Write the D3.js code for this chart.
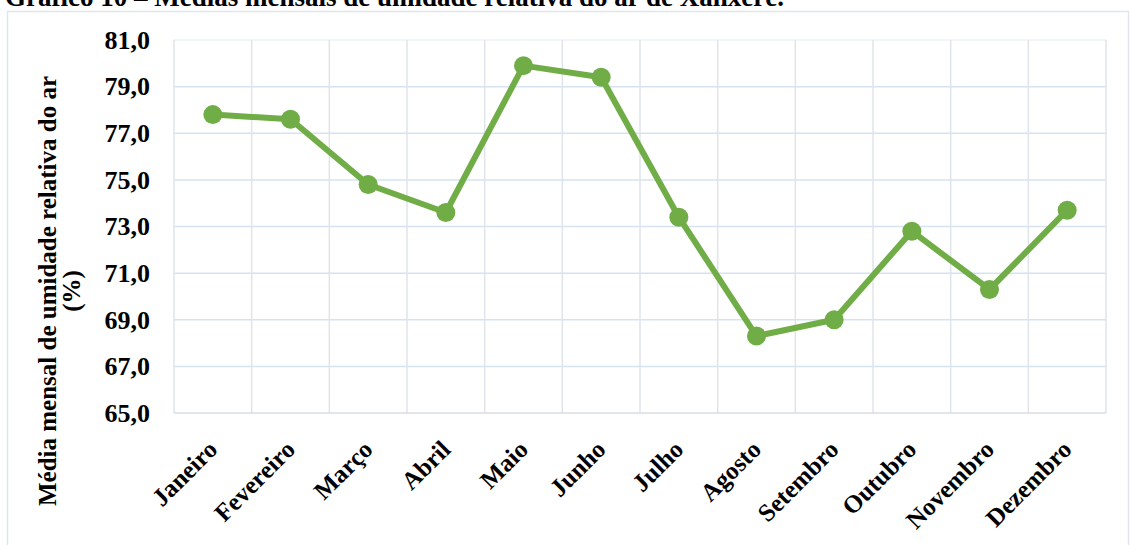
<!DOCTYPE html>
<html>
<head>
<meta charset="utf-8">
<script src="https://cdn.jsdelivr.net/npm/d3@7"></script>
<style>
    body { margin: 0; background: #fff; }
    text { font-family: "Liberation Serif", "Times New Roman", serif; font-weight: bold; fill: #000; }
</style>
</head>
<body>
<div id="vis"></div>
<script>
const months = ['Janeiro', 'Fevereiro', 'Março', 'Abril', 'Maio', 'Junho',
    'Julho', 'Agosto', 'Setembro', 'Outubro', 'Novembro', 'Dezembro'];
const humidity = [77.8, 77.6, 74.8, 73.6, 79.9, 79.4, 73.4, 68.3, 69.0, 72.8, 70.3, 73.7];
const yTicks = [65, 67, 69, 71, 73, 75, 77, 79, 81];

const W = 1130, H = 545;
const plot = { left: 174, right: 1106, top: 40, bottom: 413 };
const serif = '"Liberation Serif", "Times New Roman", serif';

const svg = d3.select('#vis')
    .append('svg')
    .attr('width', W)
    .attr('height', H);

// title, cut at the top of the image like the source
svg.append('text')
    .attr('x', 5)
    .attr('y', 6)
    .style('font-size', '27px')
    .text('Gráfico 10 – Médias mensais de umidade relativa do ar de Xanxerê.');

// chart frame
svg.append('rect')
    .attr('x', 7.5)
    .attr('y', 11.5)
    .attr('width', W - 9)
    .attr('height', H)
    .attr('fill', 'none')
    .attr('stroke', '#e1e5ea')
    .attr('stroke-width', 1.5);

const xScale = d3.scaleBand()
    .domain(months)
    .range([plot.left, plot.right]);

const yScale = d3.scaleLinear()
    .domain([65, 81])
    .range([plot.bottom, plot.top]);

const fmt = d => d3.format('.1f')(d).replace('.', ',');

// horizontal grid
svg.selectAll('.hgrid')
    .data(yTicks.filter(d => d > 65))
    .join('line')
    .attr('class', 'hgrid')
    .attr('x1', plot.left)
    .attr('x2', plot.right)
    .attr('y1', d => yScale(d))
    .attr('y2', d => yScale(d))
    .attr('stroke', d => d === 81 ? '#eef3f9' : '#d5e3f1')
    .attr('stroke-width', 1.5);

// vertical grid at category boundaries
const bounds = months.map(m => xScale(m)).concat([plot.right]);
svg.selectAll('.vgrid')
    .data(bounds)
    .join('line')
    .attr('class', 'vgrid')
    .attr('x1', d => d)
    .attr('x2', d => d)
    .attr('y1', plot.top)
    .attr('y2', plot.bottom)
    .attr('stroke', '#dfe4ea')
    .attr('stroke-width', 1.5);

// bottom axis line
svg.append('line')
    .attr('x1', plot.left)
    .attr('x2', plot.right)
    .attr('y1', plot.bottom)
    .attr('y2', plot.bottom)
    .attr('stroke', '#d9dee5')
    .attr('stroke-width', 1.5);

// y tick labels
const yAxis = d3.axisLeft(yScale)
    .tickValues(yTicks)
    .tickFormat(fmt)
    .tickSize(0)
    .tickPadding(0);

const yG = svg.append('g')
    .attr('transform', 'translate(150,0)')
    .call(yAxis);
yG.select('.domain').remove();
yG.selectAll('text')
    .style('font-family', serif)
    .style('font-weight', 'bold')
    .style('font-size', '26px')
    .attr('fill', '#000');

// x tick labels, rotated
const xAxis = d3.axisBottom(xScale).tickSize(0).tickPadding(0);
const xG = svg.append('g')
    .attr('transform', `translate(0,${plot.bottom})`)
    .call(xAxis);
xG.select('.domain').remove();
xG.selectAll('text')
    .style('font-family', serif)
    .style('font-weight', 'bold')
    .style('font-size', '25px')
    .attr('fill', '#000')
    .attr('text-anchor', 'end')
    .attr('dy', null)
    .attr('y', 0)
    .attr('transform', 'translate(6,38) rotate(-45)');

// y axis title
const yTitle = svg.append('text')
    .attr('transform', 'translate(56,291) rotate(-90)')
    .attr('text-anchor', 'middle')
    .style('font-size', '25px');
yTitle.append('tspan').attr('x', 0).attr('dy', 0).text('Média mensal de umidade relativa do ar');
yTitle.append('tspan').attr('x', 0).attr('dy', 24).text('(%)');

// line + markers
const cx = d => xScale(d) + xScale.bandwidth() / 2;
const line = d3.line()
    .x((d, i) => cx(months[i]))
    .y(d => yScale(d));

svg.append('path')
    .datum(humidity)
    .attr('d', line)
    .attr('fill', 'none')
    .attr('stroke', '#70ad47')
    .attr('stroke-width', 6)
    .attr('stroke-linejoin', 'round');

svg.selectAll('.pt')
    .data(humidity)
    .join('circle')
    .attr('class', 'pt')
    .attr('cx', (d, i) => cx(months[i]))
    .attr('cy', d => yScale(d))
    .attr('r', 9.5)
    .attr('fill', '#70ad47');
</script>
</body>
</html>
